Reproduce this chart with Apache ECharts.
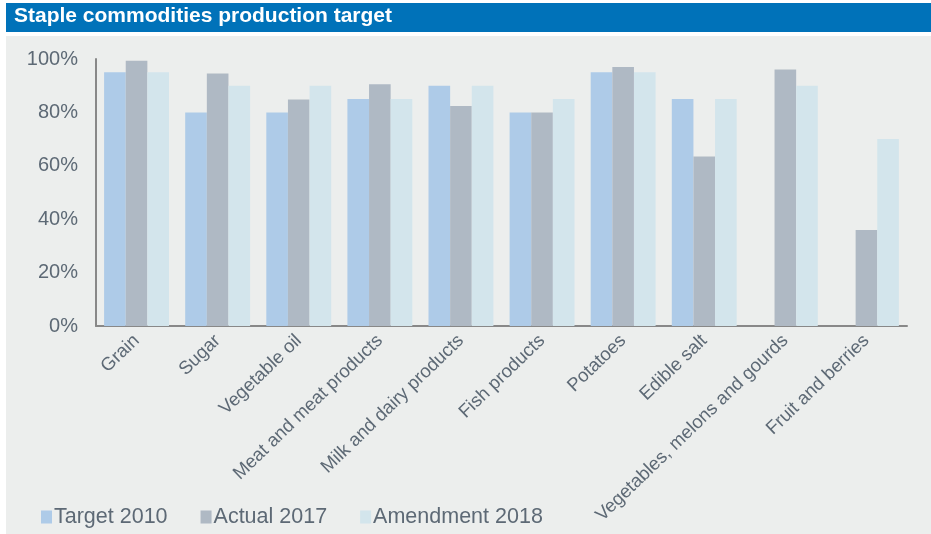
<!DOCTYPE html>
<html>
<head>
<meta charset="utf-8">
<script src="https://cdn.jsdelivr.net/npm/echarts@6/dist/echarts.min.js"></script>
<style>
  html, body { margin: 0; padding: 0; background: #fff; }
  #chart { width: 931px; height: 534px; }
</style>
</head>
<body>
<div id="chart"></div>
<script>
// chart data
const categories = ['Grain', 'Sugar', 'Vegetable oil', 'Meat and meat products', 'Milk and dairy products',
  'Fish products', 'Potatoes', 'Edible salt', 'Vegetables, melons and gourds', 'Fruit and berries'];
const target2010 = [95, 80, 80, 85, 90, 80, 95, 85, null, null];
const actual2017 = [99.3, 94.6, 84.8, 90.5, 82.4, 80, 97, 63.5, 96.1, 36];
const amendment2018 = [95, 90, 90, 85, 90, 85, 95, 85, 90, 70];
const yTicks = [0, 20, 40, 60, 80, 100];

const textColor = '#5d6975';
const font = 'Liberation Sans, Arial, sans-serif';

const chart = echarts.init(document.getElementById('chart'));

const bar = (name, data, color) => ({
  name,
  type: 'bar',
  data,
  barGap: 0,
  barCategoryGap: '20%',
  itemStyle: { color },
});

chart.setOption({
  animation: false,
  textStyle: { fontFamily: font },
  graphic: [
    { type: 'rect', shape: { x: 6, y: 3, width: 925, height: 29 }, style: { fill: '#0072b9' }, z: -10 },
    { type: 'rect', shape: { x: 6, y: 36, width: 925, height: 498 }, style: { fill: '#eceeed' }, z: -10 },
    {
      type: 'text', left: 14, top: 6,
      style: { text: 'Staple commodities production target', fill: '#fff', font: 'bold 21px ' + font },
    },
  ],
  grid: { left: 96, right: 24, top: 59, bottom: 208 },
  legend: {
    left: 36,
    bottom: 1,
    itemWidth: 11,
    itemHeight: 13,
    itemGap: 33,
    icon: 'rect',
    textStyle: { color: textColor, fontSize: 21.5, padding: [0, 0, 0, -3] },
  },
  xAxis: {
    type: 'category',
    data: categories,
    axisLine: { lineStyle: { color: '#888', width: 2 } },
    axisTick: { show: false },
    axisLabel: { rotate: 44, interval: 0, color: textColor, fontSize: 18.5, margin: 12 },
  },
  yAxis: {
    type: 'value',
    min: yTicks[0],
    max: yTicks[yTicks.length - 1],
    interval: 20,
    splitLine: { show: false },
    axisLine: { show: true, lineStyle: { color: '#888', width: 2 } },
    axisLabel: { color: textColor, fontSize: 20, margin: 18, formatter: '{value}%' },
  },
  series: [
    bar('Target 2010', target2010, '#aecbe8'),
    bar('Actual 2017', actual2017, '#afb9c4'),
    bar('Amendment 2018', amendment2018, '#d3e5ec'),
  ],
});
</script>
</body>
</html>
